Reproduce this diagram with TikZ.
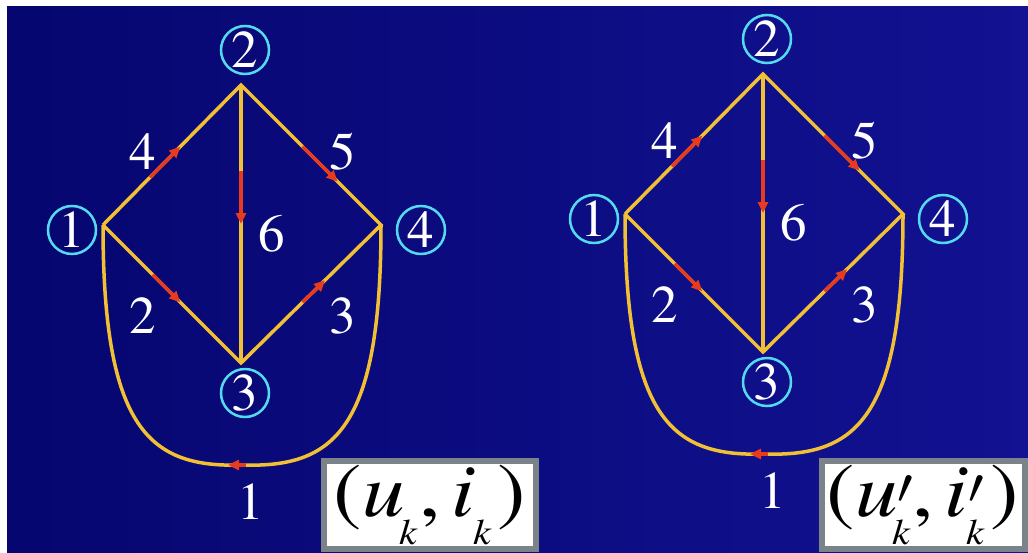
\RequirePackage{fix-cm}
\documentclass[tikz,border=0pt]{standalone}
\usepackage{fontspec}
\setmainfont{texgyretermes}[Extension=.otf, UprightFont=*-regular, ItalicFont=*-italic, BoldFont=*-bold]
\usetikzlibrary{arrows.meta, calc}

\definecolor{bgdark}{RGB}{6,6,112}
\definecolor{bglight}{RGB}{18,18,146}
\definecolor{wire}{RGB}{242,192,52}
\definecolor{ring}{RGB}{84,218,240}
\definecolor{redarr}{RGB}{232,58,28}
\definecolor{boxgray}{RGB}{122,130,138}

\newcommand{\subk}{\raisebox{-0.36em}{\fontsize{36}{36}\selectfont\itshape k}}
\newcommand{\prm}{\rlap{\raisebox{13pt}{\fontsize{50}{50}\selectfont$\prime$}}}

\begin{document}
\begin{tikzpicture}[x=1pt, y=-1pt,
	branch/.style={draw=wire, line width=3.5pt},
	flow/.style={draw=redarr, line width=3.5pt, -{Triangle[length=11pt,width=10pt]}},
	vtx/.style={circle, draw=ring, line width=2.5pt, minimum size=48pt, inner sep=0pt, text=white, font=\fontsize{53}{53}\selectfont},
	num/.style={text=white, inner sep=0pt, font=\fontsize{53}{53}\selectfont},
	tag/.style={draw=boxgray, line width=6pt, fill=white, inner sep=0pt, font=\fontsize{76}{76}\selectfont}]
	% 背景
	\fill[white] (0,0) rectangle (1028,552);
	\shade[left color=bgdark, right color=bglight] (7,6) rectangle (1028,552);
	\useasboundingbox (0,0) rectangle (1028,552);
	
	% 两个相同的有向图
	\foreach \g/\dx/\dy in {a/0/0, b/522/-11} {
		\begin{scope}[shift={(\dx,\dy)}]
			% 节点
			\coordinate (\g-j1) at (103,225);
			\coordinate (\g-j2) at (241,85);
			\coordinate (\g-j3) at (241,363);
			\coordinate (\g-j4) at (381,225);
			\coordinate (\g-bot) at (242,465);
			\node[vtx] (\g-v1) at (72,230) {1};
			\node[vtx] (\g-v2) at (245,50) {2};
			\node[vtx] (\g-v3) at (245,393) {3};
			\node[vtx] (\g-v4) at (421,230) {4};
			
			% 支路
			\draw[branch] (\g-j1) -- (\g-j2) -- (\g-j4) -- (\g-j3) -- (\g-j1);
			\draw[branch] (\g-j2) -- (\g-j3);
			\draw[branch] (\g-j4) .. controls (381,430) and (334,468) .. (\g-bot)
				.. controls (150,468) and (103,430) .. (\g-j1);
			
			% 参考方向
			\draw[flow] ($(\g-j1)!0.34!(\g-j2)$) -- ($(\g-j1)!0.56!(\g-j2)$);
			\draw[flow] ($(\g-j2)!0.44!(\g-j4)$) -- ($(\g-j2)!0.69!(\g-j4)$);
			\draw[flow] ($(\g-j2)!0.31!(\g-j3)$) -- ($(\g-j2)!0.50!(\g-j3)$);
			\draw[flow] ($(\g-j1)!0.36!(\g-j3)$) -- ($(\g-j1)!0.56!(\g-j3)$);
			\draw[flow] ($(\g-j3)!0.44!(\g-j4)$) -- ($(\g-j3)!0.60!(\g-j4)$);
			\draw[flow] ($(\g-bot)+(4,0)$) -- ($(\g-bot)+(-14,0)$);
			
			% 支路编号
			\node[num] (\g-e1) at (251,502) {1};
			\node[num] (\g-e2) at (143,316) {2};
			\node[num] (\g-e3) at (343,316) {3};
			\node[num] (\g-e4) at (143,152) {4};
			\node[num] (\g-e5) at (343,152) {5};
			\node[num] (\g-e6) at (272,234) {6};
		\end{scope}
	}
	
	% 电压电流标注
	\node[tag, minimum width=212pt, minimum height=88pt] (tagA) at (430,505)
		{\scalebox{1.12}[1]{(\textit{u}\kern-5pt\subk\kern2pt,\kern10pt\textit{i}\kern-2pt\subk\kern6pt)}};
	\node[tag, minimum width=203pt, minimum height=88pt] (tagB) at (923,505)
		{\scalebox{1.12}[1]{(\textit{u}\prm\kern-5pt\subk\kern2pt,\kern10pt\textit{i}\prm\kern-2pt\subk\kern6pt)}};
\end{tikzpicture}
\end{document}
